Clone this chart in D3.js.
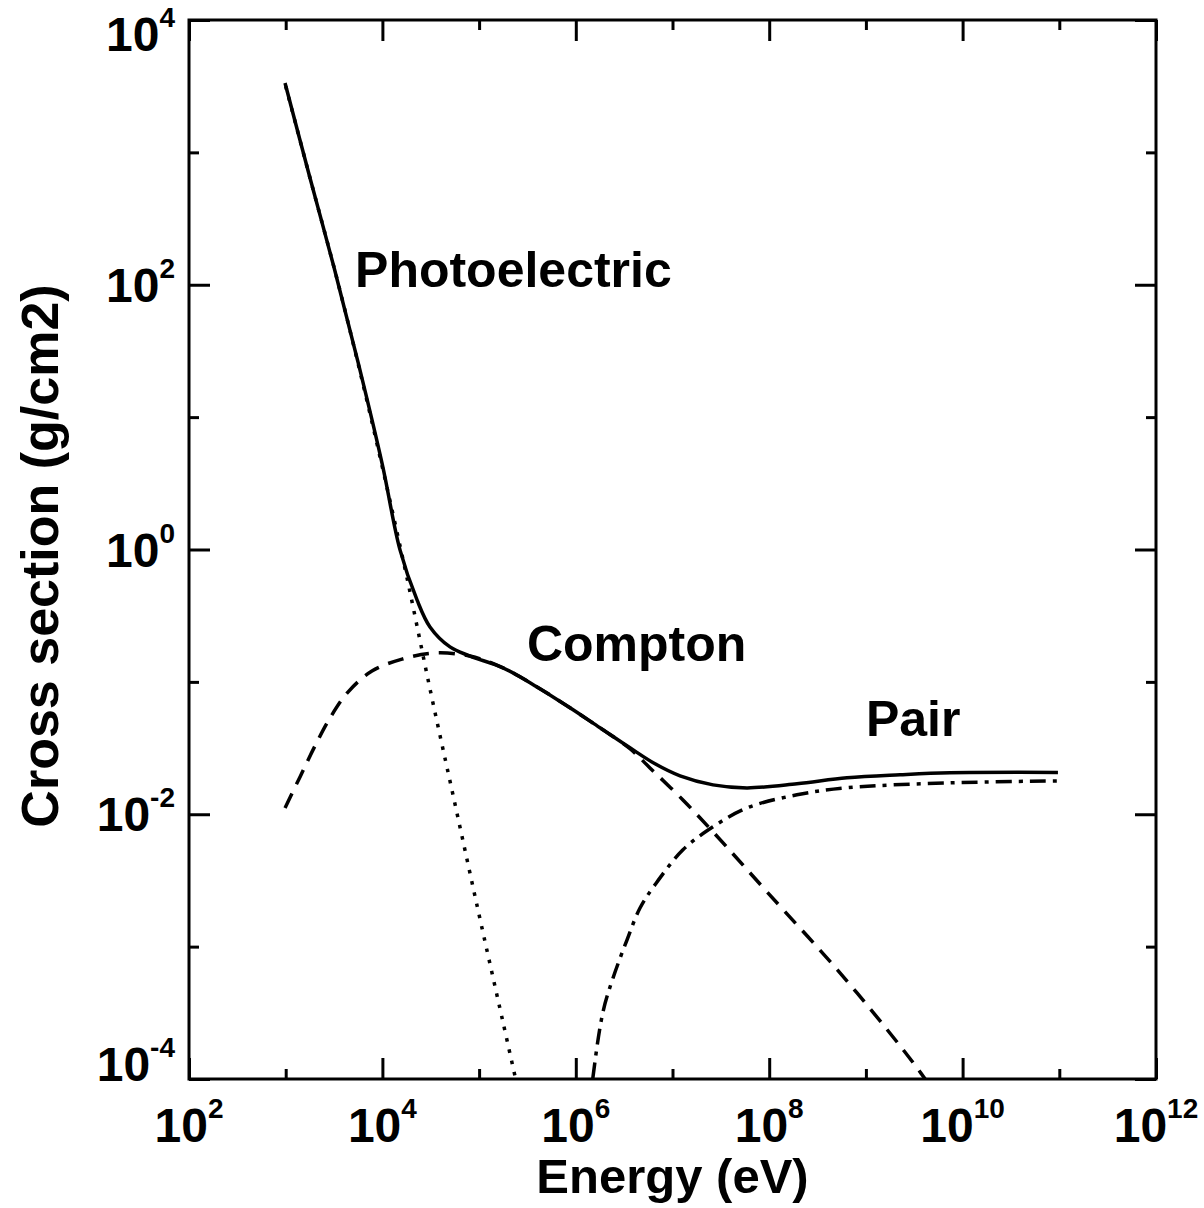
<!DOCTYPE html>
<html>
<head>
<meta charset="utf-8">
<script src="https://cdn.jsdelivr.net/npm/d3@7"></script>
<style>
  body { margin: 0; background: #fff; }
  svg { display: block; }
  text { font-family: "Liberation Sans", Arial, Helvetica, sans-serif; font-weight: bold; fill: #000; }
</style>
</head>
<body>
<svg id="chart" width="1204" height="1208"></svg>
<script>
// ---- Data (log10 of energy in eV, log10 of cross section in g/cm2) ----
const photoLogE   = [3.0, 3.25, 3.5, 3.75, 4.0, 4.25, 4.5, 4.75, 5.0, 5.25, 5.5];
const photoLogS   = [3.50, 2.81, 2.13, 1.40, 0.62, -0.20, -1.08, -1.92, -2.76, -3.58, -4.40];

const comptonLogE = [2.993, 3.148, 3.303, 3.458, 3.644, 3.892, 4.203, 4.534, 4.906, 5.247, 5.599, 5.940, 6.250, 6.560, 6.767, 7.108, 7.419, 7.977, 8.732, 9.353, 9.611, 9.8];
const comptonLogS = [-1.952, -1.718, -1.484, -1.273, -1.077, -0.918, -0.828, -0.782, -0.805, -0.894, -1.038, -1.196, -1.347, -1.505, -1.650, -1.892, -2.133, -2.586, -3.198, -3.749, -3.998, -4.2];

const pairLogE    = [6.14, 6.178, 6.281, 6.385, 6.529, 6.664, 6.819, 7.108, 7.419, 7.770, 8.287, 8.804, 9.869, 10.986];
const pairLogS    = [-4.25, -3.983, -3.494, -3.237, -2.950, -2.708, -2.533, -2.269, -2.095, -1.952, -1.853, -1.800, -1.763, -1.748];

const totalLogE   = [2.993, 3.25, 3.5, 3.75, 4.0, 4.182, 4.358, 4.492, 4.699, 4.906, 5.247, 5.599, 5.940, 6.250, 6.560, 6.819, 7.078, 7.419, 7.770, 8.287, 8.804, 9.353, 9.869, 10.986];
const totalLogS   = [3.524, 2.81, 2.13, 1.41, 0.64, -0.003, -0.381, -0.585, -0.736, -0.805, -0.894, -1.038, -1.196, -1.347, -1.498, -1.619, -1.710, -1.778, -1.801, -1.770, -1.725, -1.702, -1.687, -1.684];

const xTickExps   = [2, 4, 6, 8, 10, 12];
const xMinorExps  = [3, 5, 7, 9, 11];
const yTickExps   = [4, 2, 0, -2, -4];
const yMinorExps  = [3, 1, -1, -3];

// label anchor = left end of the text baseline, in data coordinates (log10)
const labels = [
  { text: "Photoelectric", logE: 3.717, logS: 1.98 },
  { text: "Compton",       logE: 5.495, logS: -0.84 },
  { text: "Pair",          logE: 9.0,   logS: -1.41 }
];
const xTitle = "Energy (eV)";
const yTitle = "Cross section (g/cm2)";

// ---- Layout ----
const svg = d3.select("#chart");
const L = 189, R = 1156, T = 20, B = 1079;

const x = d3.scaleLog().domain([1e2, 1e12]).range([L, R]);
const y = d3.scaleLog().domain([1e-4, 1e4]).range([B, T]);

const toPts = (le, ls) => le.map((e, i) => [Math.pow(10, e), Math.pow(10, ls[i])]);

svg.append("defs").append("clipPath").attr("id", "plotclip")
  .append("rect").attr("x", L).attr("y", T).attr("width", R - L).attr("height", B - T);

const line = d3.line()
  .x(d => x(d[0])).y(d => y(d[1]))
  .curve(d3.curveCatmullRom.alpha(0.5));

const g = svg.append("g").attr("clip-path", "url(#plotclip)");

function drawSeries(pts, dash) {
  g.append("path")
    .datum(pts)
    .attr("d", line)
    .attr("fill", "none")
    .attr("stroke", "#000")
    .attr("stroke-width", 3.5)
    .attr("stroke-dasharray", dash)
    .attr("stroke-linejoin", "round");
}
drawSeries(toPts(photoLogE, photoLogS), "3.5,8");
drawSeries(toPts(comptonLogE, comptonLogS), "16,10");
drawSeries(toPts(pairLogE, pairLogS), "16,7,4,7");
drawSeries(toPts(totalLogE, totalLogS), null);

// ---- Axes: ticks inward on all 4 sides ----
const xMaj = xTickExps.map(e => Math.pow(10, e));
const xMin = xMinorExps.map(e => Math.pow(10, e));
const yMaj = yTickExps.map(e => Math.pow(10, e));
const yMin = yMinorExps.map(e => Math.pow(10, e));

function tickAxis(axisGen, scale, vals, size, transform) {
  const a = svg.append("g").attr("transform", transform)
    .call(axisGen(scale).tickValues(vals).tickSize(size).tickFormat(""));
  a.select(".domain").remove();
  a.selectAll(".tick line").attr("stroke", "#000").attr("stroke-width", 3);
}
tickAxis(d3.axisBottom, x, xMaj, -21, `translate(0,${B})`);
tickAxis(d3.axisBottom, x, xMin, -10, `translate(0,${B})`);
tickAxis(d3.axisTop, x, xMaj, -21, `translate(0,${T})`);
tickAxis(d3.axisTop, x, xMin, -10, `translate(0,${T})`);
tickAxis(d3.axisLeft, y, yMaj, -21, `translate(${L},0)`);
tickAxis(d3.axisLeft, y, yMin, -10, `translate(${L},0)`);
tickAxis(d3.axisRight, y, yMaj, -21, `translate(${R},0)`);
tickAxis(d3.axisRight, y, yMin, -10, `translate(${R},0)`);

svg.append("rect")
  .attr("x", L).attr("y", T).attr("width", R - L).attr("height", B - T)
  .attr("fill", "none").attr("stroke", "#000").attr("stroke-width", 3);

// ---- Tick labels ----
function powLabel(sel, exp) {
  sel.append("tspan").text("10");
  sel.append("tspan").attr("font-size", 28).attr("dy", -24).text(String(exp));
}
xTickExps.forEach(e => {
  const t = svg.append("text")
    .attr("x", x(Math.pow(10, e)))
    .attr("y", 1142)
    .attr("text-anchor", "middle")
    .attr("font-size", 48);
  powLabel(t, e);
});
yTickExps.forEach((e, i) => {
  let by = y(Math.pow(10, e)) + 17;
  if (i === 0) by = 51;
  if (i === yTickExps.length - 1) by = 1081;
  const t = svg.append("text")
    .attr("x", 175)
    .attr("y", by)
    .attr("text-anchor", "end")
    .attr("font-size", 48);
  powLabel(t, e);
});

// ---- Curve labels ----
labels.forEach(d => {
  svg.append("text")
    .attr("x", x(Math.pow(10, d.logE)))
    .attr("y", y(Math.pow(10, d.logS)))
    .attr("font-size", 50)
    .text(d.text);
});

// ---- Axis titles ----
svg.append("text")
  .attr("x", (L + R) / 2).attr("y", 1193)
  .attr("text-anchor", "middle").attr("font-size", 49)
  .text(xTitle);

svg.append("text")
  .attr("transform", `translate(58,${556}) rotate(-90)`)
  .attr("text-anchor", "middle").attr("font-size", 52)
  .text(yTitle);
</script>
</body>
</html>
